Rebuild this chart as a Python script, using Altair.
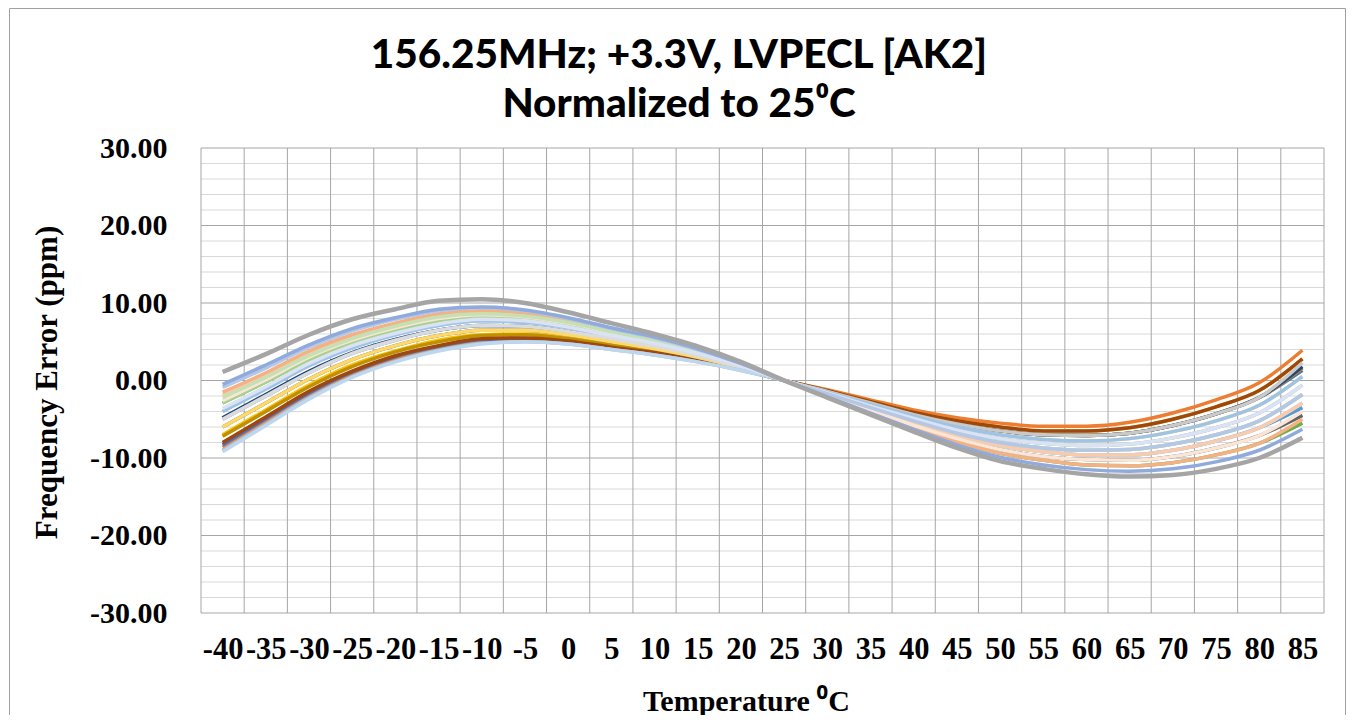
import altair as alt
import pandas as pd

# ---------------- data ----------------
temps = [-40, -35, -30, -25, -20, -15, -10, -5, 0, 5, 10, 15, 20, 25,
         30, 35, 40, 45, 50, 55, 60, 65, 70, 75, 80, 85]

title_lines = ["156.25MHz; +3.3V, LVPECL [AK2]", "Normalized to 25\u2070C"]
x_title = "Temperature \u2070C"
y_title = "Frequency Error (ppm)"

y_major = [-30, -20, -10, 0, 10, 20, 30]
y_minor = [-28, -26, -24, -22, -18, -16, -14, -12, -8, -6, -4, -2,
           2, 4, 6, 8, 12, 14, 16, 18, 22, 24, 26, 28]
x_bounds = [-42.5, -37.5, -32.5, -27.5, -22.5, -17.5, -12.5, -7.5, -2.5, 2.5,
            7.5, 12.5, 17.5, 22.5, 27.5, 32.5, 37.5, 42.5, 47.5, 52.5, 57.5,
            62.5, 67.5, 72.5, 77.5, 82.5, 87.5]

s01 = [-8.6, -5.2, -1.8, 0.9, 2.9, 4.2, 5.1, 5.3, 4.9, 4.2, 3.5, 2.5, 1.4, 0.0,
       -1.2, -2.5, -3.8, -4.8, -5.5, -5.9, -5.9, -5.4, -4.2, -2.5, -0.3, 3.9]
s02 = [-8.3, -4.9, -1.6, 1.1, 3.1, 4.4, 5.3, 5.4, 5.0, 4.2, 3.5, 2.5, 1.4, 0.0,
       -1.4, -2.9, -4.4, -5.6, -6.5, -7.0, -7.1, -6.8, -5.8, -4.3, -2.2, 1.3]
s03 = [-7.0, -3.8, -0.6, 2.0, 3.8, 5.2, 5.9, 6.0, 5.5, 4.7, 3.8, 2.8, 1.5, 0.0,
       -1.3, -2.7, -4.1, -5.2, -6.0, -6.5, -6.5, -6.1, -5.0, -3.4, -1.3, 2.8]
s04 = [-7.2, -4.0, -0.8, 1.8, 3.7, 5.0, 5.8, 5.9, 5.4, 4.6, 3.7, 2.7, 1.5, 0.0,
       -1.4, -2.9, -4.4, -5.6, -6.5, -7.0, -7.1, -6.8, -5.8, -4.3, -2.2, 1.6]
s05 = [-4.8, -1.8, 1.2, 3.6, 5.3, 6.5, 7.1, 7.0, 6.3, 5.4, 4.4, 3.2, 1.7, 0.0,
       -1.4, -2.9, -4.4, -5.6, -6.5, -7.0, -7.1, -6.8, -5.8, -4.3, -2.2, 1.8]
s06 = [-8.0, -4.7, -1.4, 1.2, 3.2, 4.5, 5.4, 5.5, 5.1, 4.3, 3.6, 2.6, 1.4, 0.0,
       -1.3, -2.7, -4.1, -5.2, -6.0, -6.5, -6.5, -6.1, -5.0, -3.4, -1.3, 2.8]
s07 = [-6.0, -2.9, 0.2, 2.7, 4.5, 5.8, 6.5, 6.5, 5.9, 5.0, 4.1, 3.0, 1.6, 0.0,
       -1.9, -3.8, -5.8, -7.5, -8.9, -9.8, -10.2, -10.3, -9.8, -8.7, -7.1, -4.5]
s08 = [-2.9, -0.2, 2.7, 4.9, 6.5, 7.7, 8.2, 8.0, 7.2, 6.0, 4.9, 3.6, 2.0, 0.0,
       -2.0, -4.0, -6.0, -7.9, -9.4, -10.3, -10.9, -11.0, -10.6, -9.6, -8.1, -5.5]
s09 = [-5.0, -2.0, 1.0, 3.5, 5.2, 6.5, 7.1, 7.0, 6.3, 5.4, 4.4, 3.2, 1.7, 0.0,
       -1.8, -3.6, -5.5, -7.1, -8.4, -9.2, -9.6, -9.6, -9.0, -7.8, -6.1, -3.5]
s10 = [-6.0, -2.9, 0.2, 2.7, 4.5, 5.8, 6.5, 6.5, 5.9, 5.0, 4.1, 3.0, 1.6, 0.0,
       -1.5, -3.1, -4.6, -6.0, -7.0, -7.6, -7.8, -7.5, -6.6, -5.2, -3.2, 0.5]
s11 = [-4.0, -1.1, 1.9, 4.2, 5.9, 7.1, 7.7, 7.5, 6.8, 5.7, 4.7, 3.4, 1.9, 0.0,
       -1.4, -2.9, -4.4, -5.6, -6.5, -7.0, -7.1, -6.8, -5.8, -4.3, -2.2, 2.3]
s12 = [-2.9, -0.2, 2.7, 4.9, 6.5, 7.7, 8.2, 8.0, 7.2, 6.0, 4.9, 3.6, 2.0, 0.0,
       -1.7, -3.5, -5.2, -6.8, -8.0, -8.7, -9.0, -8.9, -8.2, -7.0, -5.2, -1.8]
s13 = [-4.0, -1.1, 1.9, 4.2, 5.9, 7.1, 7.7, 7.5, 6.8, 5.7, 4.7, 3.4, 1.9, 0.0,
       -1.5, -3.1, -4.6, -6.0, -7.0, -7.6, -7.8, -7.5, -6.6, -5.2, -3.2, 0.5]
s14 = [-5.0, -2.0, 1.0, 3.5, 5.2, 6.5, 7.1, 7.0, 6.3, 5.4, 4.4, 3.2, 1.7, 0.0,
       -1.6, -3.3, -4.9, -6.4, -7.5, -8.1, -8.4, -8.2, -7.4, -6.1, -4.2, -0.6]
s15 = [-9.0, -5.6, -2.2, 0.5, 2.5, 3.9, 4.8, 5.0, 4.7, 4.0, 3.3, 2.4, 1.3, 0.0,
       -1.6, -3.3, -4.9, -6.4, -7.5, -8.1, -8.4, -8.2, -7.4, -6.1, -4.2, -0.6]
s16 = [-9.2, -5.8, -2.4, 0.4, 2.4, 3.8, 4.7, 5.0, 4.7, 4.0, 3.3, 2.4, 1.3, 0.0,
       -1.8, -3.6, -5.5, -7.1, -8.4, -9.2, -9.6, -9.6, -9.0, -7.8, -6.1, -2.9]
s17 = [-1.9, 0.7, 3.5, 5.7, 7.2, 8.4, 8.8, 8.5, 7.6, 6.4, 5.2, 3.8, 2.1, 0.0,
       -1.8, -3.6, -5.5, -7.1, -8.4, -9.2, -9.6, -9.6, -9.0, -7.8, -6.1, -2.9]
s18 = [-1.5, 1.0, 3.8, 5.9, 7.4, 8.6, 9.0, 8.7, 7.8, 6.5, 5.3, 3.9, 2.1, 0.0,
       -2.0, -4.0, -6.0, -7.9, -9.4, -10.3, -10.9, -11.0, -10.6, -9.6, -8.1, -5.0]
s19 = [-2.6, 0.1, 3.0, 5.2, 6.8, 8.0, 8.5, 8.2, 7.4, 6.2, 5.0, 3.7, 2.0, 0.0,
       -1.9, -3.8, -5.8, -7.5, -8.9, -9.8, -10.2, -10.3, -9.8, -8.7, -7.1, -4.0]
s20 = [-2.2, 0.4, 3.2, 5.4, 7.0, 8.2, 8.6, 8.3, 7.5, 6.3, 5.1, 3.7, 2.0, 0.0,
       -1.7, -3.5, -5.2, -6.8, -8.0, -8.7, -9.0, -8.9, -8.2, -7.0, -5.2, -1.8]
s21 = [-3.6, -0.8, 2.2, 4.5, 6.1, 7.3, 7.9, 7.7, 6.9, 5.8, 4.8, 3.5, 1.9, 0.0,
       -1.6, -3.3, -4.9, -6.4, -7.5, -8.1, -8.4, -8.2, -7.4, -6.1, -4.2, -0.6]
s22 = [-0.9, 1.6, 4.3, 6.4, 7.9, 9.0, 9.4, 9.0, 8.0, 6.7, 5.5, 4.0, 2.2, 0.0,
       -1.7, -3.5, -5.2, -6.8, -8.0, -8.7, -9.0, -8.9, -8.2, -7.0, -5.2, -1.8]
s23 = [-0.5, 2.0, 4.6, 6.7, 8.1, 9.2, 9.5, 9.1, 8.1, 6.8, 5.6, 4.1, 2.2, 0.0,
       -2.1, -4.2, -6.3, -8.3, -9.9, -10.9, -11.5, -11.7, -11.4, -10.5, -9.0, -6.3]
s24 = [1.1, 3.4, 5.9, 7.9, 9.2, 10.3, 10.5, 10.0, 8.8, 7.4, 6.0, 4.4, 2.4, 0.0,
       -2.2, -4.4, -6.6, -8.7, -10.4, -11.4, -12.1, -12.4, -12.2, -11.4, -10.0, -7.4]

series_values = [s01, s02, s03, s04, s05, s06, s07, s08, s09, s10, s11, s12,
                 s13, s14, s15, s16, s17, s18, s19, s20, s21, s22, s23, s24]
series_names = ["s%02d" % (i + 1) for i in range(len(series_values))]
series_colors = ["#ED7D31", "#4472C4", "#FFC000", "#BF9000", "#264478", "#9E480E",
                 "#636363", "#70AD47", "#5B9BD5", "#FFD966", "#C9C9C9", "#A9D18E",
                 "#9DC3E6", "#DBDBDB", "#ADB9CA", "#BDD7EE", "#F8CBAD", "#F4B183",
                 "#FBE5D6", "#C5E0B4", "#DAE3F3", "#B4C7E7", "#8FAADC", "#A5A5A5"]
series_widths = [3.5] * 23 + [4.5]

rows = []
for name, width, vals in zip(series_names, series_widths, series_values):
    for t, v in zip(temps, vals):
        rows.append({"series": name, "t": t, "v": v, "w": width})
df = pd.DataFrame(rows)

# ---------------- chart ----------------
SERIF = "Liberation Serif"
W, H = 1123, 465

x_scale = alt.Scale(domain=[-42.5, 87.5], nice=False, zero=False)
y_scale = alt.Scale(domain=[-30, 30], nice=False, zero=False)

x_axis = alt.Axis(values=temps, title=x_title, grid=False, ticks=False,
                  tickSize=0, domain=False, labelFont=SERIF,
                  labelFontWeight="bold", labelFontSize=30.5,
                  labelColor="black", labelPadding=21,
                  labelOverlap=False, labelFlush=False,
                  labelExpr="datum.value < 0 ? '-' + format(-datum.value, 'd') : format(datum.value, 'd')",
                  titleFont=SERIF, titleFontWeight="bold", titleFontSize=30,
                  titleColor="black", titleX=545, titleY=97,
                  titleBaseline="alphabetic", titleAlign="center")
y_axis = alt.Axis(values=y_major, title=y_title, grid=False, ticks=False,
                  tickSize=0, domain=False, labelFont=SERIF,
                  labelFontWeight="bold", labelFontSize=30,
                  labelColor="black", labelPadding=34,
                  labelOverlap=False, labelFlush=False,
                  labelExpr="datum.value < 0 ? '-' + format(-datum.value, '.2f') : format(datum.value, '.2f')",
                  titleFont=SERIF, titleFontWeight="bold", titleFontSize=31,
                  titleColor="black", titleAngle=-90, titleX=-145,
                  titleY=234, titleBaseline="alphabetic", titleAlign="center")

minor = alt.Chart(pd.DataFrame({"v": y_minor})).mark_rule(
    color="#D9D9D9", strokeWidth=1).encode(
    y=alt.Y("v:Q", scale=y_scale, axis=y_axis))
major = alt.Chart(pd.DataFrame({"v": y_major})).mark_rule(
    color="#A6A6A6", strokeWidth=1).encode(
    y=alt.Y("v:Q", scale=y_scale, axis=y_axis))
vert = alt.Chart(pd.DataFrame({"t": x_bounds})).mark_rule(
    color="#A6A6A6", strokeWidth=1).encode(
    x=alt.X("t:Q", scale=x_scale, axis=x_axis))

lines = alt.Chart(df).mark_line(interpolate="monotone").encode(
    x=alt.X("t:Q", scale=x_scale, axis=x_axis),
    y=alt.Y("v:Q", scale=y_scale, axis=y_axis),
    color=alt.Color("series:N", scale=alt.Scale(domain=series_names, range=series_colors),
                    legend=None),
    size=alt.Size("w:Q", scale=None, legend=None),
    detail="series:N",
)

t1 = alt.Chart(pd.DataFrame({"txt": [title_lines[0]]})).mark_text(
    font="Lato", fontWeight=900, fontSize=40.5, align="center",
    baseline="alphabetic", color="black").encode(
    text="txt:N", x=alt.value(478), y=alt.value(-79.7))
t2 = alt.Chart(pd.DataFrame({"txt": [title_lines[1]]})).mark_text(
    font="Lato", fontWeight=900, fontSize=40.5, align="center",
    baseline="alphabetic", color="black").encode(
    text="txt:N", x=alt.value(478), y=alt.value(-31))

one = pd.DataFrame({"k": [0]})
b_left = alt.Chart(one).mark_rule(color="#A0A0A0", strokeWidth=1).encode(
    x=alt.value(-191.5), y=alt.value(-139.5), y2=alt.value(569))
b_top = alt.Chart(one).mark_rule(color="#A0A0A0", strokeWidth=1).encode(
    x=alt.value(-191.5), x2=alt.value(1144.5), y=alt.value(-139.5))
b_right = alt.Chart(one).mark_rule(color="#A0A0A0", strokeWidth=1).encode(
    x=alt.value(1144.5), y=alt.value(-139.5), y2=alt.value(569))

chart = alt.layer(minor, major, vert, lines, t1, t2, b_left, b_top, b_right).properties(
    width=W, height=H,
    autosize=alt.AutoSizeParams(type="none"),
    padding={"left": 193, "top": 140, "right": 22, "bottom": 102},
    background="white",
).configure_view(strokeWidth=0)

chart.save("out.html", embed_options={"renderer": "svg", "actions": False})
